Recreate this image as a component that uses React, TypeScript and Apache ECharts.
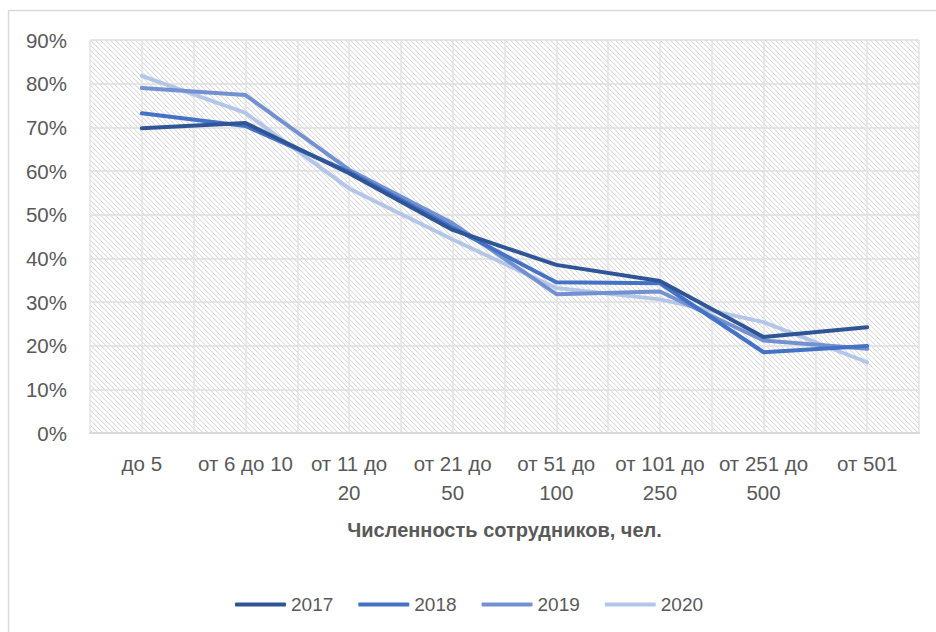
import React, { useEffect, useRef } from "react";
import * as echarts from "echarts";

const categories = ["до 5", "от 6 до 10", "от 11 до 20", "от 21 до 50", "от 51 до 100", "от 101 до 250", "от 251 до 500", "от 501"];
const years = ["2017", "2018", "2019", "2020"];
const values2017 = [69.8, 71.0, 59.5, 46.5, 38.5, 34.8, 22.0, 24.2];
const values2018 = [73.2, 70.3, 59.8, 47.0, 34.5, 34.3, 18.5, 19.9];
const values2019 = [79.0, 77.4, 60.3, 48.0, 31.8, 32.4, 21.2, 19.3];
const values2020 = [81.8, 73.3, 56.0, 44.3, 33.2, 30.6, 25.4, 16.2];
const yTicks = [0, 10, 20, 30, 40, 50, 60, 70, 80, 90];
const xTitle = "Численность сотрудников, чел.";

const colors = ["#2f5597", "#4472c4", "#7391d1", "#b4c6e7"];
const FONT = "'Liberation Sans', Arial, sans-serif";

function makeHatch(): HTMLCanvasElement {
  const c = document.createElement("canvas");
  const n = 5;
  c.width = n;
  c.height = n;
  const ctx = c.getContext("2d")!;
  ctx.fillStyle = "#ffffff";
  ctx.fillRect(0, 0, n, n);
  for (let y = 0; y < n; y++) {
    for (let x = 0; x < n; x++) {
      const d = (((x - y) % n) + n) % n;
      if (d === 0) {
        ctx.fillStyle = "#dadada";
        ctx.fillRect(x, y, 1, 1);
      } else if (d === 1) {
        ctx.fillStyle = "#f3f3f3";
        ctx.fillRect(x, y, 1, 1);
      }
    }
  }
  return c;
}

export default function App() {
  const ref = useRef<HTMLDivElement>(null);
  useEffect(() => {
    document.body.style.margin = "0";
    const chart = echarts.init(ref.current!, undefined, { renderer: "svg" });
    const seriesData = [values2017, values2018, values2019, values2020];
    chart.setOption({
      animation: false,
      backgroundColor: "#ffffff",
      graphic: [
        {
          type: "rect",
          shape: { x: 8.5, y: 10.5, width: 960, height: 660 },
          style: { fill: "none", stroke: "#d9d9d9", lineWidth: 1.5 },
          silent: true,
          z: -10,
        },
      ],
      grid: {
        left: 90,
        right: 17,
        top: 40,
        bottom: 199,
        show: true,
        borderWidth: 0,
        backgroundColor: { image: makeHatch(), repeat: "repeat" },
      },
      legend: {
        data: years,
        left: 230,
        top: 590,
        icon: "roundRect",
        itemWidth: 51,
        itemHeight: 4,
        itemGap: 25,
        textStyle: { fontFamily: FONT, fontSize: 19, color: "#595959" },
      },
      xAxis: [
        {
          type: "category",
          data: categories,
          boundaryGap: true,
          axisLine: { show: true, lineStyle: { color: "#d9d9d9", width: 2 } },
          axisTick: { show: false },
          splitLine: { show: false },
          axisLabel: {
            interval: 0,
            margin: 16,
            color: "#595959",
            fontFamily: FONT,
            fontSize: 20.5,
            lineHeight: 29,
            formatter: (v: string) => {
              if (v.length > 10) {
                const i = v.lastIndexOf(" ");
                return v.slice(0, i) + "\n" + v.slice(i + 1);
              }
              return v;
            },
          },
          name: xTitle,
          nameLocation: "middle",
          nameGap: 87,
          nameTextStyle: { fontFamily: FONT, fontSize: 20, fontWeight: "bold", color: "#595959" },
        },
        {
          type: "value",
          position: "top",
          min: -0.5,
          max: 7.5,
          interval: 0.5,
          axisLine: { show: false },
          axisTick: { show: false },
          axisLabel: { show: false },
          splitLine: { show: true, lineStyle: { color: "#e3e3e3", width: 1.5 } },
        },
      ],
      yAxis: {
        type: "value",
        min: 0,
        max: 90,
        interval: 10,
        axisLine: { show: false },
        axisTick: { show: false },
        axisLabel: {
          margin: 23,
          color: "#595959",
          fontFamily: FONT,
          fontSize: 20.5,
          formatter: (v: number) => (yTicks.includes(v) ? v + "%" : ""),
        },
        splitLine: { show: true, lineStyle: { color: "#dedede", width: 1.5 } },
      },
      series: years.map((y, i) => ({
        name: y,
        type: "line",
        xAxisIndex: 0,
        data: seriesData[i],
        symbol: "none",
        color: colors[i],
        lineStyle: { color: colors[i], width: 4, cap: "round", join: "round" },
        z: 10 - i,
      })),
    });
    return () => chart.dispose();
  }, []);
  return <div ref={ref} style={{ width: 936, height: 632 }} />;
}
